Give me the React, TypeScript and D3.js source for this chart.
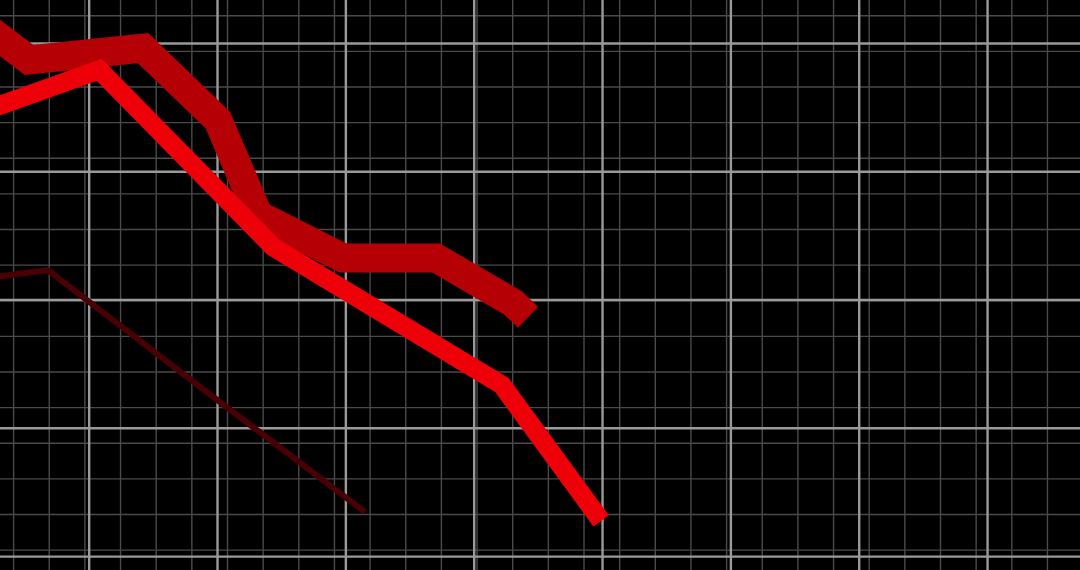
import React, { useEffect, useRef } from "react";
import * as d3 from "d3";

// grid positions, in chart units (minor step = 1 unit)
const minorX = d3.range(0, 31);
const minorY = d3.range(0, 17);
const majorX = [2.12, 5.72, 9.32, 12.92, 16.52, 20.12, 23.72, 27.32];
const majorY = [0.82, 4.42, 8.02, 11.62, 15.22];

// series: [period, value]
const seriesBright: [number, number][] = [
  [-0.94, 13.28], [2.4, 14.48], [7.28, 9.51], [13.7, 5.63], [16.48, 1.82],
];
const seriesDark: [number, number][] = [
  [-0.94, 15.8], [0.43, 14.76], [3.63, 15.09], [5.73, 13.07], [6.86, 10.41],
  [9.24, 9.2], [11.85, 9.2], [14.01, 7.94], [14.43, 7.54],
];
const seriesThin: [number, number][] = [
  [-0.94, 8.61], [0.96, 8.86], [5.23, 5.58], [9.86, 2.07],
];

const W = 1080;
const H = 570;

export default function App() {
  const ref = useRef<SVGSVGElement>(null);

  useEffect(() => {
    const svg = d3.select(ref.current);
    svg.selectAll("*").remove();

    const x = d3.scaleLinear().domain([0, 1]).range([13.6, 13.6 + 35.65]);
    const y = d3.scaleLinear().domain([0, 16]).range([585.8, 15.7]);

    svg.append("rect").attr("width", W).attr("height", H).attr("fill", "#000");

    const grid = svg.append("g");

    // minor grid
    grid.selectAll("line.mx")
      .data(minorX)
      .enter()
      .append("line")
      .attr("class", "mx")
      .attr("x1", (d) => x(d)).attr("x2", (d) => x(d))
      .attr("y1", 0).attr("y2", H)
      .attr("stroke", "#4a4a4a")
      .attr("stroke-width", 1.4);

    grid.selectAll("line.my")
      .data(minorY)
      .enter()
      .append("line")
      .attr("class", "my")
      .attr("y1", (d) => y(d)).attr("y2", (d) => y(d))
      .attr("x1", 0).attr("x2", W)
      .attr("stroke", "#4a4a4a")
      .attr("stroke-width", 1.4);

    // major grid
    grid.selectAll("line.Mx")
      .data(majorX)
      .enter()
      .append("line")
      .attr("class", "Mx")
      .attr("x1", (d) => x(d)).attr("x2", (d) => x(d))
      .attr("y1", 0).attr("y2", H)
      .attr("stroke", "#9a9a9a")
      .attr("stroke-width", 2.4);

    grid.selectAll("line.My")
      .data(majorY)
      .enter()
      .append("line")
      .attr("class", "My")
      .attr("y1", (d) => y(d)).attr("y2", (d) => y(d))
      .attr("x1", 0).attr("x2", W)
      .attr("stroke", "#9a9a9a")
      .attr("stroke-width", 2.4);

    const line = d3.line<[number, number]>()
      .x((d) => x(d[0]))
      .y((d) => y(d[1]));

    const series = [
      { data: seriesThin, color: "#480005", width: 6 },
      { data: seriesDark, color: "#b50005", width: 29 },
      { data: seriesBright, color: "#ee0008", width: 19 },
    ];

    svg.selectAll("path.series")
      .data(series)
      .enter()
      .append("path")
      .attr("class", "series")
      .attr("d", (d) => line(d.data))
      .attr("fill", "none")
      .attr("stroke", (d) => d.color)
      .attr("stroke-width", (d) => d.width)
      .attr("stroke-linejoin", "miter")
      .attr("stroke-linecap", "butt");
  }, []);

  return (
    <svg
      ref={ref}
      width={W}
      height={H}
      style={{ position: "absolute", left: 0, top: 0, display: "block" }}
    />
  );
}
